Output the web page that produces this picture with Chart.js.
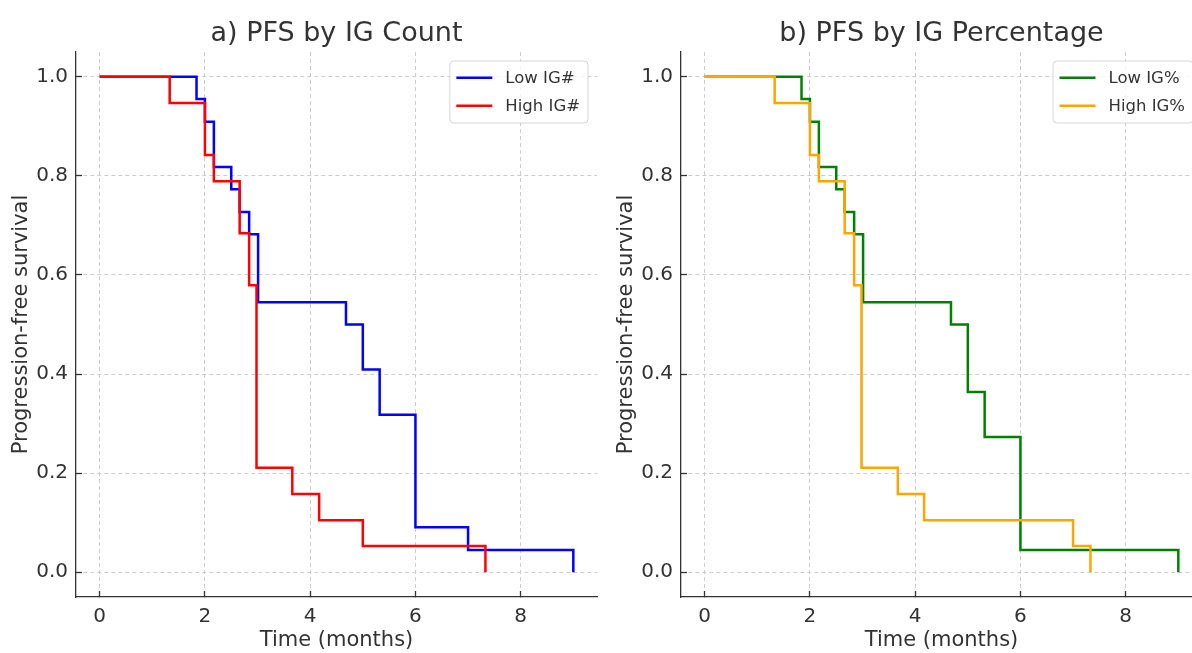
<!DOCTYPE html>
<html>
<head>
<meta charset="utf-8">
<script src="https://cdn.jsdelivr.net/npm/chart.js@4"></script>
<style>
  html, body { margin: 0; padding: 0; background: #fff; overflow: hidden; }
  .panel { position: absolute; top: 0; width: 600px; height: 653px; }
  #panelA { left: 0; }
  #panelB { left: 605px; }
</style>
</head>
<body>
<div class="panel" id="panelA"><canvas id="chartA" width="600" height="653"></canvas></div>
<div class="panel" id="panelB"><canvas id="chartB" width="600" height="653"></canvas></div>
<script>
// Kaplan-Meier steps (time in months, survival after the event)
const lowCountTimes = [0, 1.84, 2.0, 2.17, 2.5, 2.66, 2.84, 3.01, 4.68, 5.0, 5.32, 6.0, 7.0, 9.0];
const lowCountSurv  = [1.0, 0.955, 0.909, 0.818, 0.773, 0.727, 0.682, 0.545, 0.5, 0.409, 0.318, 0.091, 0.045, 0.0];

const highCountTimes = [0, 1.33, 2.0, 2.17, 2.66, 2.84, 2.98, 3.66, 4.17, 5.0, 7.33];
const highCountSurv  = [1.0, 0.947, 0.842, 0.789, 0.684, 0.579, 0.211, 0.158, 0.105, 0.053, 0.0];

const lowPctTimes = [0, 1.84, 2.0, 2.17, 2.5, 2.66, 2.84, 3.01, 4.68, 5.0, 5.32, 6.0, 9.0];
const lowPctSurv  = [1.0, 0.955, 0.909, 0.818, 0.773, 0.727, 0.682, 0.545, 0.5, 0.364, 0.273, 0.045, 0.0];

const highPctTimes = [0, 1.33, 2.0, 2.17, 2.66, 2.84, 2.98, 3.67, 4.17, 7.0, 7.33];
const highPctSurv  = [1.0, 0.947, 0.842, 0.789, 0.684, 0.579, 0.211, 0.158, 0.105, 0.053, 0.0];

const xTicks = [0, 2, 4, 6, 8];
const yTicks = [0, 0.2, 0.4, 0.6, 0.8, 1.0];

const FONT = 'DejaVu Sans';
const INK = '#333333';
Chart.defaults.font.family = FONT;
Chart.defaults.color = INK;

function toPoints(times, surv) {
  return times.map((t, i) => ({ x: t, y: surv[i] }));
}

// title centred over the plot area
const panelTitle = {
  id: 'panelTitle',
  afterDraw(chart, args, opts) {
    const ctx = chart.ctx;
    const area = chart.chartArea;
    ctx.save();
    ctx.font = '27px "' + FONT + '"';
    ctx.fillStyle = INK;
    ctx.textAlign = 'center';
    ctx.textBaseline = 'alphabetic';
    ctx.fillText(opts.text, (area.left + area.right) / 2, 41);
    ctx.restore();
  }
};

// boxed legend in the upper right corner of the plot area
const boxLegend = {
  id: 'boxLegend',
  afterDraw(chart) {
    const ctx = chart.ctx;
    const area = chart.chartArea;
    const sets = chart.data.datasets;
    ctx.save();
    ctx.font = '16.5px "' + FONT + '"';
    let textW = 0;
    sets.forEach(ds => { textW = Math.max(textW, ctx.measureText(ds.label).width); });
    const w = 6.5 + 36 + 13 + textW + 8;
    const h = 62;
    const x = area.right - 9 - w;
    const y = 61;
    ctx.beginPath();
    ctx.roundRect(x, y, w, h, 4);
    ctx.fillStyle = 'rgba(255,255,255,0.8)';
    ctx.fill();
    ctx.strokeStyle = '#d6d6d6';
    ctx.lineWidth = 1;
    ctx.stroke();
    sets.forEach((ds, i) => {
      const ly = y + 16.7 + i * 28;
      ctx.beginPath();
      ctx.moveTo(x + 6.5, ly);
      ctx.lineTo(x + 42.5, ly);
      ctx.strokeStyle = ds.borderColor;
      ctx.lineWidth = 2.6;
      ctx.stroke();
      ctx.fillStyle = INK;
      ctx.textAlign = 'left';
      ctx.textBaseline = 'middle';
      ctx.fillText(ds.label, x + 55.5, ly + 1);
    });
    ctx.restore();
  }
};

function makeChart(id, title, series) {
  new Chart(document.getElementById(id), {
    type: 'line',
    data: {
      datasets: series.map(s => ({
        label: s.label,
        data: toPoints(s.times, s.surv),
        borderColor: s.color,
        backgroundColor: s.color,
        borderWidth: 2.5,
        pointRadius: 0,
        stepped: 'before',
        fill: false,
        order: s.order
      }))
    },
    options: {
      responsive: false,
      animation: false,
      layout: { padding: { top: 52, right: 3, bottom: 0, left: 0 } },
      plugins: {
        legend: { display: false },
        tooltip: { enabled: false },
        panelTitle: { text: title }
      },
      scales: {
        x: {
          type: 'linear',
          min: -0.45,
          max: 9.45,
          afterBuildTicks: scale => { scale.ticks = xTicks.map(v => ({ value: v })); },
          afterFit: scale => { scale.height = 56; },
          ticks: { font: { size: 20 }, color: INK, padding: 14, maxRotation: 0, callback: v => String(v) },
          grid: { color: '#cccccc', lineWidth: 1, tickLength: -6, tickColor: INK, tickWidth: 1.3, tickBorderDash: [] },
          border: { display: true, color: INK, width: 1.3, dash: [4, 3] },
          title: { display: true, text: 'Time (months)', font: { size: 21 }, color: INK, padding: { top: 0, bottom: 0 } }
        },
        y: {
          type: 'linear',
          min: -0.05,
          max: 1.05,
          afterBuildTicks: scale => { scale.ticks = yTicks.map(v => ({ value: v })); },
          afterFit: scale => { scale.width = 76; },
          ticks: { font: { size: 20 }, color: INK, padding: 14, callback: v => Number(v).toFixed(1) },
          grid: { color: '#cccccc', lineWidth: 1, tickLength: -6, tickColor: INK, tickWidth: 1.3, tickBorderDash: [] },
          border: { display: true, color: INK, width: 1.3, dash: [4, 3] },
          title: { display: true, text: 'Progression-free survival', font: { size: 21 }, color: INK, padding: { top: 8.5, bottom: 0 } }
        }
      }
    },
    plugins: [panelTitle, boxLegend]
  });
}

makeChart('chartA', 'a) PFS by IG Count', [
  { label: 'Low IG#', times: lowCountTimes, surv: lowCountSurv, color: '#0000ff', order: 2 },
  { label: 'High IG#', times: highCountTimes, surv: highCountSurv, color: '#ff0000', order: 1 }
]);

makeChart('chartB', 'b) PFS by IG Percentage', [
  { label: 'Low IG%', times: lowPctTimes, surv: lowPctSurv, color: '#008000', order: 2 },
  { label: 'High IG%', times: highPctTimes, surv: highPctSurv, color: '#ffa500', order: 1 }
]);
</script>
</body>
</html>
